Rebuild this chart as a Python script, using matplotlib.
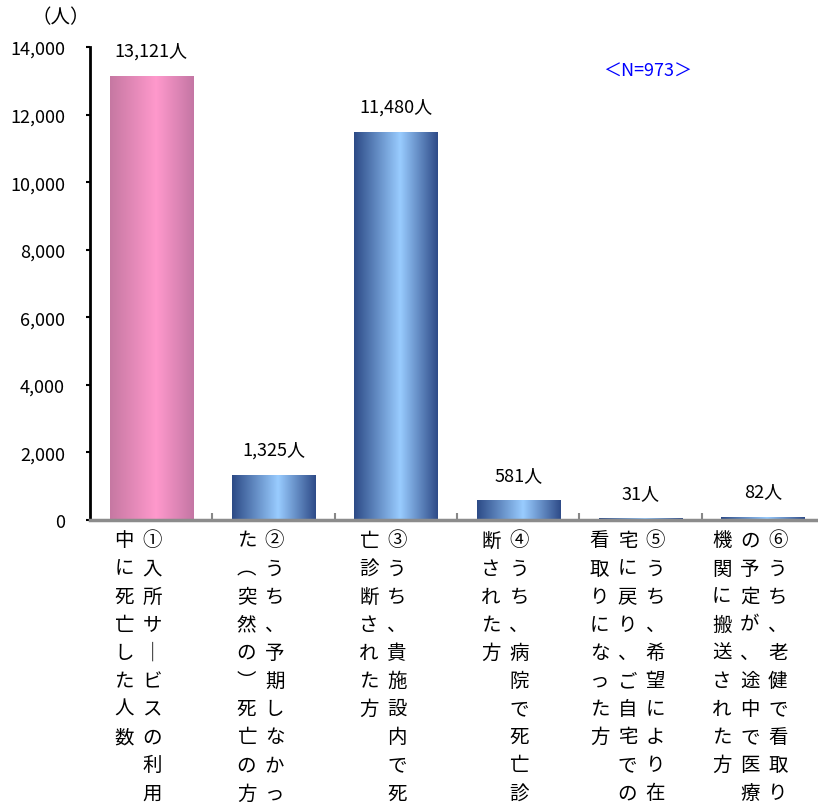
import numpy as np
import matplotlib
matplotlib.use("Agg")
import matplotlib.pyplot as plt
import matplotlib.transforms as mtransforms
from matplotlib.colors import LinearSegmentedColormap

plt.rcParams['font.family'] = ['Noto Sans CJK JP', 'DejaVu Sans']

# データ
labels = [
    "①入所サービスの利用中に死亡した人数",
    "②うち、予期しなかった（突然の）死亡の方",
    "③うち、貴施設内で死亡診断された方",
    "④うち、病院で死亡診断された方",
    "⑤うち、希望により在宅に戻り、ご自宅での看取りになった方",
    "⑥うち、老健で看取りの予定が、途中で医療機関に搬送された方",
]
values = [13121, 1325, 11480, 581, 31, 82]
yticks = [0, 2000, 4000, 6000, 8000, 10000, 12000, 14000]

# 縦書き用の置き換え
vert_map = {"ー": "｜", "（": "︵", "）": "︶"}

W, H = 818, 803
fig = plt.figure(figsize=(W / 100, H / 100), dpi=100)
ax_left, ax_right, ax_top, ax_bottom = 90, 824, 48, 521
ax = fig.add_axes([ax_left / W, 1 - ax_bottom / H,
                   (ax_right - ax_left) / W, (ax_bottom - ax_top) / H])

x = np.arange(len(values))
bars = ax.bar(x, values, width=0.68, color='none', edgecolor='none')

pink = LinearSegmentedColormap.from_list(
    "pink", [(0, "#c678a2"), (0.55, "#ff99cc"), (1, "#c476a4")])
blue = LinearSegmentedColormap.from_list(
    "blue", [(0, "#2c4a86"), (0.55, "#99ccff"), (1, "#2e4b88")])
grad = np.linspace(0, 1, 256).reshape(1, -1)

for i, b in enumerate(bars):
    x0, y0 = b.get_x(), b.get_y()
    cmap = pink if i == 0 else blue
    ax.imshow(grad, cmap=cmap, aspect='auto', interpolation='bilinear',
              extent=[x0, x0 + b.get_width(), y0, y0 + b.get_height()],
              zorder=2)
    ax.annotate(f"{values[i]:,}人", (x[i], values[i]), xytext=(0, 18.5),
                textcoords='offset points', ha='center', va='center',
                fontsize=13)

ax.set_xlim(-0.5, 5.5)
ax.set_ylim(0, 14000)
ax.set_yticks(yticks)
ax.set_yticklabels([f"{v:,}" for v in yticks], fontsize=13)
ax.set_xticks(np.arange(0.5, 5.5, 1))
ax.set_xticklabels([])
ax.tick_params(axis='y', direction='out', length=3, width=1.5, color='black', pad=15)
ax.tick_params(axis='x', direction='in', length=5, width=1.5, color='#888888')

for s in ['top', 'right']:
    ax.spines[s].set_visible(False)
ax.spines['left'].set_linewidth(2)
ax.spines['left'].set_color('black')
ax.spines['bottom'].set_linewidth(2.5)
ax.spines['bottom'].set_color('#8c8c8c')

# 縦書きのカテゴリラベル
trans = mtransforms.blended_transform_factory(ax.transData, fig.transFigure)
unit_px = (ax_right - ax_left) / 6
col_step = 28 / unit_px
for i, lab in enumerate(labels):
    cols = [lab[k:k + 10] for k in range(0, len(lab), 10)]
    n = len(cols)
    for j, col in enumerate(cols):
        cx = x[i] + (n - 1) * col_step / 2 - j * col_step - 13 / unit_px
        for r, ch in enumerate(col):
            ypx = 541 + r * 28.1
            ax.text(cx, 1 - ypx / H, vert_map.get(ch, ch), transform=trans,
                    ha='center', va='center', fontsize=14, clip_on=False)

fig.text(61 / W, 1 - 18 / H, "（人）", ha='center', va='center', fontsize=14)
fig.text(648 / W, 1 - 72 / H, "＜N=973＞", ha='center', va='center',
         fontsize=13, color='#0000ff')

fig.savefig("out.png", dpi=100)
